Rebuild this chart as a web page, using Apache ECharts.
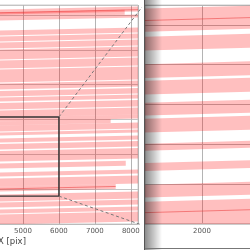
<!DOCTYPE html>
<html>
<head>
<meta charset="utf-8">
<script src="https://cdn.jsdelivr.net/npm/echarts@6/dist/echarts.min.js"></script>
<style>
  html, body { margin: 0; padding: 0; background: #fff; }
  #ech-form { width: 250px; height: 250px; }
</style>
</head>
<body>
<div id="ech-form"></div>
<script>
// left panel: trace bands (centre Y at X=5000, thickness, last X)
const bandYL   = [4269, 4209, 4128, 3847, 3727, 3596, 3415, 3214, 2983, 2772, 2627, 2511, 2376, 2220, 2109, 2029, 1929, 1818, 1688, 1562, 1371, 1175, 1005, 844, 713, 532, 392, 261, 100];
const bandHL   = [100, 100, 60, 100, 100, 120, 200, 160, 260, 120, 110, 80, 130, 140, 80, 80, 120, 60, 80, 110, 210, 100, 80, 160, 100, 140, 100, 80, 200];
const bandEndL = [8200, 7830, 8200, 8200, 8200, 8200, 8200, 8200, 8200, 8200, 8200, 8200, 8200, 8200, 8200, 7440, 8200, 8200, 8200, 8200, 8200, 7860, 8200, 8200, 7580, 8200, 8200, 8200, 8200];
// centre lines drawn on top of some traces
const lineYL   = [4255, 713];
const lineEndL = [8200, 7580];

// right panel (zoom): centre Y at X=2000, thickness
const bandYR = [1632, 1514, 1376, 1293, 1185, 1102, 994, 894, 773, 655];
const bandHR = [116, 70, 70, 70, 65, 70, 35, 40, 65, 130];
const lineYR = [1630, 665];

// zoom box on the left panel
const boxX = [3900, 6000];
const boxY = [560, 2150];

const xTicksR = [2000];

const TILT_L = 0.016;   // slope of the traces, Y per X
const TILT_R = 0.014;

const echart = echarts.init(document.getElementById('ech-form'));

function bandRender(tilt, refX) {
    return function (params, api) {
        const yc = api.value(0), h = api.value(1), x0 = api.value(2), x1 = api.value(3);
        const y0 = yc + tilt * (x0 - refX), y1 = yc + tilt * (x1 - refX);
        return {
            type: 'polygon',
            shape: {
                points: [
                    api.coord([x0, y0 + h / 2]), api.coord([x1, y1 + h / 2]),
                    api.coord([x1, y1 - h / 2]), api.coord([x0, y0 - h / 2])
                ]
            },
            style: { fill: 'rgba(255,0,0,0.25)' }
        };
    };
}

const leftBands = bandYL.map((y, i) => [y, bandHL[i], 4000, bandEndL[i]]);
const rightBands = bandYR.map((y, i) => [y, bandHR[i], 1430, 3000]);

const tickFont = { fontSize: 7, color: '#555', fontFamily: 'DejaVu Sans', formatter: v => String(v) };

const lineSeries = [];
lineYL.forEach((y, i) => {
    lineSeries.push({
        type: 'line', xAxisIndex: 0, yAxisIndex: 0, showSymbol: false, silent: true,
        lineStyle: { color: 'rgba(235,60,60,0.55)', width: 1 },
        data: [[4000, y + TILT_L * (4000 - 5000)], [lineEndL[i], y + TILT_L * (lineEndL[i] - 5000)]]
    });
});
lineYR.forEach(y => {
    lineSeries.push({
        type: 'line', xAxisIndex: 1, yAxisIndex: 1, showSymbol: false, silent: true,
        lineStyle: { color: 'rgba(235,60,60,0.55)', width: 1 },
        data: [[1430, y + TILT_R * (1430 - 2000)], [3000, y + TILT_R * (3000 - 2000)]]
    });
});

option = {
    animation: false,
    grid: [
        { left: -13, top: 5, width: 151, height: 219, outerBoundsMode: 'none', containLabel: false, show: true, borderColor: '#ccc', borderWidth: 1 },
        { left: 145, top: 5, width: 157, height: 219, outerBoundsMode: 'none', containLabel: false, show: true, borderColor: '#ccc', borderWidth: 1 }
    ],
    xAxis: [
        {
            type: 'value', gridIndex: 0, min: 4000, max: 8200, interval: 1000,
            axisLine: { lineStyle: { color: '#bbb' } },
            axisTick: { show: false },
            axisLabel: Object.assign({ margin: 4, showMaxLabel: false }, tickFont),
            splitLine: { lineStyle: { color: '#b4b4b4' } }
        },
        {
            type: 'value', gridIndex: 1, min: 1430, max: 3000,
            axisLine: { lineStyle: { color: '#ccc', width: 2 } },
            axisTick: { show: false, customValues: xTicksR },
            axisLabel: Object.assign({ margin: 4, customValues: xTicksR }, tickFont),
            splitLine: { show: true, lineStyle: { color: '#b4b4b4' } }
        }
    ],
    yAxis: [
        {
            type: 'value', gridIndex: 0, min: 0, max: 4400, interval: 700,
            axisLine: { show: false }, axisTick: { show: false }, axisLabel: { show: false },
            splitLine: { lineStyle: { color: '#c4c4c4' } }
        },
        {
            type: 'value', gridIndex: 1, min: 600, max: 1700, interval: 200,
            axisLine: { show: false }, axisTick: { show: false }, axisLabel: { show: false },
            splitLine: { lineStyle: { color: '#b4b4b4' } }
        }
    ],
    series: [
        {
            type: 'custom', xAxisIndex: 0, yAxisIndex: 0, clip: true, silent: true,
            renderItem: bandRender(TILT_L, 5000), data: leftBands
        },
        {
            type: 'custom', xAxisIndex: 1, yAxisIndex: 1, clip: true, silent: true,
            renderItem: bandRender(TILT_R, 2000), data: rightBands
        },
        ...lineSeries,
        {
            type: 'line', xAxisIndex: 0, yAxisIndex: 0, showSymbol: false, silent: true, z: 5,
            lineStyle: { color: '#333', width: 1.4 },
            data: [[boxX[0], boxY[0]], [boxX[1], boxY[0]], [boxX[1], boxY[1]], [boxX[0], boxY[1]], [boxX[0], boxY[0]]]
        }
    ]
};
echart.setOption(option);

// connectors from the zoom box to the inset, plus the inset frame/shadow
const pTop = echart.convertToPixel({ gridIndex: 0 }, [boxX[1], boxY[1]]);
const pBot = echart.convertToPixel({ gridIndex: 0 }, [boxX[1], boxY[0]]);
const qTop = echart.convertToPixel({ gridIndex: 1 }, [1430, 1700]);
const qBot = echart.convertToPixel({ gridIndex: 1 }, [1430, 600]);
const dash = { stroke: '#777', lineWidth: 1, lineDash: [3, 2.5] };

echart.setOption({
    graphic: [
        { type: 'line', z: 100, shape: { x1: pTop[0], y1: pTop[1], x2: qTop[0] - 3, y2: qTop[1] + 2 }, style: dash },
        { type: 'line', z: 100, shape: { x1: pBot[0], y1: pBot[1], x2: qBot[0] - 3, y2: qBot[1] + 1 }, style: dash },
        {
            type: 'rect', z: 100, shape: { x: 145, y: 0, width: 17, height: 250 },
            style: {
                fill: new echarts.graphic.LinearGradient(0, 0, 1, 0, [
                    { offset: 0, color: 'rgba(0,0,0,0.45)' },
                    { offset: 1, color: 'rgba(0,0,0,0)' }
                ])
            }
        },
        { type: 'line', z: 101, shape: { x1: 144.5, y1: 0, x2: 144.5, y2: 250 }, style: { stroke: '#555', lineWidth: 1 } },
        { type: 'line', z: 101, shape: { x1: 145, y1: 248.5, x2: 250, y2: 248.5 }, style: { stroke: '#777', lineWidth: 1 } },
        {
            type: 'text', z: 100, left: -2, top: 237,
            style: { text: 'X [pix]', fontSize: 8.5, fill: '#444', fontFamily: 'DejaVu Sans' }
        }
    ]
});
</script>
</body>
</html>
